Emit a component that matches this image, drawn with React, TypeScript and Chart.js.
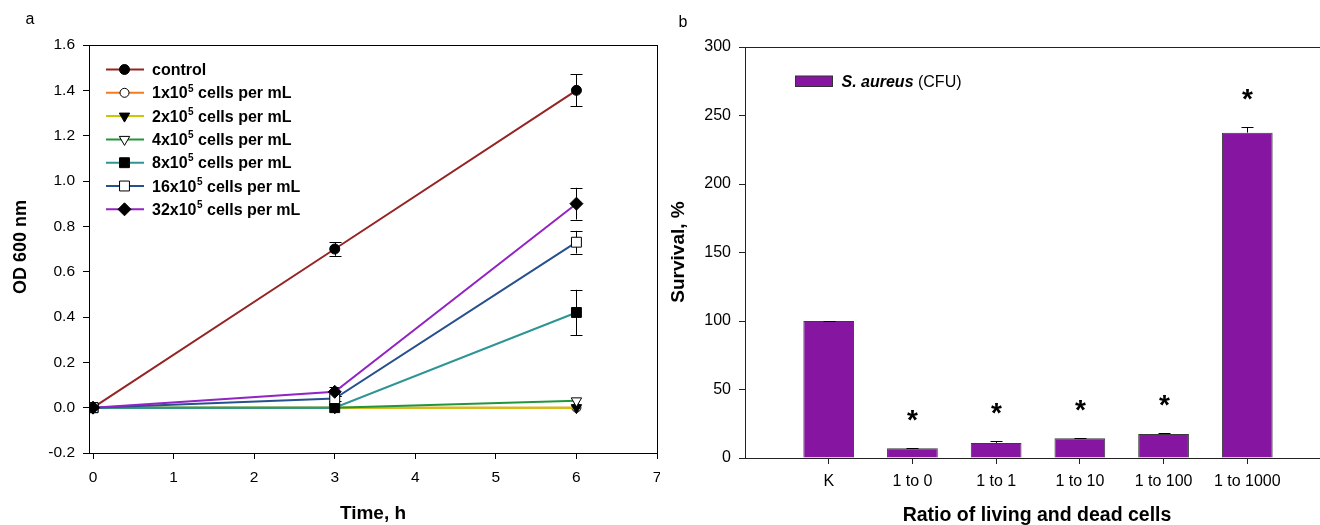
import React, { useEffect, useRef } from 'react';
import { Chart, registerables } from 'chart.js';
import { drawPoint } from 'chart.js/helpers';

Chart.register(...registerables);

const FONT = '"Liberation Sans", Arial, Helvetica, sans-serif';

// ---------- Panel a data ----------
const timePoints = [0, 3, 6];
const xTicksA = [0, 1, 2, 3, 4, 5, 6, 7];
const yTicksA = [-0.2, 0, 0.2, 0.4, 0.6, 0.8, 1.0, 1.2, 1.4, 1.6];

const seriesNames = [
  'control',
  '1x10^5 cells per mL',
  '2x10^5 cells per mL',
  '4x10^5 cells per mL',
  '8x10^5 cells per mL',
  '16x10^5 cells per mL',
  '32x10^5 cells per mL',
];
const controlOD = [0, 0.70, 1.40];
const controlErr = [0, 0.03, 0.07];
const cells1OD = [0, 0, 0];
const cells1Err = [0, 0, 0];
const cells2OD = [0, 0, 0];
const cells2Err = [0, 0, 0];
const cells4OD = [0, 0, 0.03];
const cells4Err = [0, 0, 0];
const cells8OD = [0, 0, 0.42];
const cells8Err = [0, 0, 0.10];
const cells16OD = [0, 0.04, 0.73];
const cells16Err = [0, 0.01, 0.05];
const cells32OD = [0, 0.07, 0.90];
const cells32Err = [0, 0.02, 0.07];

const seriesColors = ['#962424', '#F47B20', '#C8C800', '#23963C', '#2E9494', '#27508F', '#9223C4'];
const seriesMarkers = ['circle', 'circle', 'triangle', 'triangle', 'rect', 'rect', 'rectRot'];
const markerFilled = [true, false, true, false, true, false, true];
const markerRotation = [0, 0, 180, 180, 0, 0, 0];
const markerRadius = [5, 4.5, 6, 6, 7, 7, 6.5];

const seriesValues = [controlOD, cells1OD, cells2OD, cells4OD, cells8OD, cells16OD, cells32OD];
const seriesErrors = [controlErr, cells1Err, cells2Err, cells4Err, cells8Err, cells16Err, cells32Err];

// ---------- Panel b data ----------
const ratioLabels = ['K', '1 to 0', '1 to 1', '1 to 10', '1 to 100', '1 to 1000'];
const survival = [100, 7.1, 11.0, 14.4, 17.5, 237.5];
const survivalErr = [0.3, 0.2, 1.4, 0.3, 1.0, 4.1];
const significant = [false, true, true, true, true, true];
const yTicksB = [0, 50, 100, 150, 200, 250, 300];
const barColor = '#8616A2';

function fixedTicks(values: number[]) {
  return (scale: any) => {
    scale.ticks = values.map((v) => ({ value: v }));
  };
}

function drawLabelWithSup(ctx: CanvasRenderingContext2D, s: string, x: number, y: number, size: number) {
  const parts = s.split('^');
  ctx.font = `bold ${size}px ${FONT}`;
  ctx.fillText(parts[0], x, y);
  let cx = x + ctx.measureText(parts[0]).width;
  if (parts.length > 1) {
    const m = parts[1].match(/^(\d+)(.*)$/);
    const sup = m ? m[1] : '';
    const rest = m ? m[2] : parts[1];
    ctx.font = `bold ${Math.round(size * 0.6)}px ${FONT}`;
    ctx.fillText(sup, cx + 0.5, y - size * 0.42);
    cx += ctx.measureText(sup).width + 0.5;
    ctx.font = `bold ${size}px ${FONT}`;
    ctx.fillText(rest, cx, y);
  }
}

const panelAPlugin = {
  id: 'panelA',
  beforeDatasetsDraw(chart: any) {
    const { ctx, scales } = chart;
    const x = scales.x;
    const y = scales.y;
    ctx.save();
    ctx.strokeStyle = '#000';
    ctx.lineWidth = 1;
    seriesValues.forEach((vals, si) => {
      seriesErrors[si].forEach((e, i) => {
        if (!e) return;
        const px = Math.round(x.getPixelForValue(timePoints[i])) + 0.5;
        const top = y.getPixelForValue(vals[i] + e);
        const bot = y.getPixelForValue(vals[i] - e);
        ctx.beginPath();
        ctx.moveTo(px, top);
        ctx.lineTo(px, bot);
        ctx.moveTo(px - 6, Math.round(top) + 0.5);
        ctx.lineTo(px + 6, Math.round(top) + 0.5);
        ctx.moveTo(px - 6, Math.round(bot) + 0.5);
        ctx.lineTo(px + 6, Math.round(bot) + 0.5);
        ctx.stroke();
      });
    });
    ctx.restore();
  },
  afterDraw(chart: any) {
    const { ctx, chartArea } = chart;
    ctx.save();
    ctx.strokeStyle = '#000';
    ctx.lineWidth = 1;
    ctx.strokeRect(Math.round(chartArea.left) + 0.5, Math.round(chartArea.top) + 0.5,
      Math.round(chartArea.right - chartArea.left), Math.round(chartArea.bottom - chartArea.top));

    // legend
    const rowY0 = 69.5;
    const rowStep = 23.3;
    seriesNames.forEach((name, i) => {
      const ry = rowY0 + rowStep * i;
      ctx.strokeStyle = seriesColors[i];
      ctx.lineWidth = 2;
      ctx.beginPath();
      ctx.moveTo(106, ry);
      ctx.lineTo(144, ry);
      ctx.stroke();
      ctx.fillStyle = markerFilled[i] ? '#000' : '#fff';
      ctx.strokeStyle = '#000';
      ctx.lineWidth = 1;
      drawPoint(ctx, { pointStyle: seriesMarkers[i], radius: markerRadius[i], rotation: markerRotation[i], borderWidth: 1 } as any, 124.5, ry);
      ctx.fillStyle = '#000';
      ctx.textAlign = 'left';
      ctx.textBaseline = 'alphabetic';
      drawLabelWithSup(ctx, name, 152, ry + 5.5, 16);
    });

    // titles
    ctx.fillStyle = '#000';
    ctx.font = `16px ${FONT}`;
    ctx.textAlign = 'center';
    ctx.textBaseline = 'middle';
    ctx.fillText('a', 30, 20);

    ctx.font = `bold 19px ${FONT}`;
    ctx.textBaseline = 'alphabetic';
    ctx.fillText('Time, h', 373, 519);

    ctx.save();
    ctx.translate(25.5, 247);
    ctx.rotate(-Math.PI / 2);
    ctx.font = `bold 18px ${FONT}`;
    ctx.fillText('OD 600 nm', 0, 0);
    ctx.restore();
    ctx.restore();
  },
};

const panelBPlugin = {
  id: 'panelB',
  afterDatasetsDraw(chart: any) {
    const { ctx, scales } = chart;
    const x = scales.x;
    const y = scales.y;
    ctx.save();
    ctx.strokeStyle = '#000';
    ctx.lineWidth = 1;
    survival.forEach((v, i) => {
      const e = survivalErr[i];
      const px = Math.round(x.getPixelForValue(i)) + 0.5;
      const top = Math.round(y.getPixelForValue(v + e)) + 0.5;
      const base = y.getPixelForValue(v);
      ctx.beginPath();
      ctx.moveTo(px, base);
      ctx.lineTo(px, top);
      ctx.moveTo(px - 6, top);
      ctx.lineTo(px + 6, top);
      ctx.stroke();
      if (significant[i]) {
        ctx.fillStyle = '#000';
        ctx.font = `bold 28px ${FONT}`;
        ctx.textAlign = 'center';
        ctx.textBaseline = 'alphabetic';
        ctx.fillText('*', px, top - 34 + 14);
      }
    });
    ctx.restore();
  },
  afterDraw(chart: any) {
    const { ctx, chartArea } = chart;
    ctx.save();
    ctx.strokeStyle = '#222';
    ctx.lineWidth = 1;
    ctx.strokeRect(Math.round(chartArea.left) + 0.5, Math.round(chartArea.top) + 0.5,
      Math.round(chartArea.right - chartArea.left), Math.round(chartArea.bottom - chartArea.top));

    // legend
    ctx.fillStyle = barColor;
    ctx.fillRect(135.5, 76, 37, 10.5);
    ctx.strokeStyle = '#333';
    ctx.strokeRect(135.5, 76, 37, 10.5);
    ctx.fillStyle = '#000';
    ctx.textAlign = 'left';
    ctx.textBaseline = 'alphabetic';
    ctx.font = `italic bold 16px ${FONT}`;
    const italicPart = 'S. aureus';
    ctx.fillText(italicPart, 181.5, 87);
    const w = ctx.measureText(italicPart).width;
    ctx.font = `16px ${FONT}`;
    ctx.fillText(' (CFU)', 181.5 + w, 87);

    // titles
    ctx.font = `16px ${FONT}`;
    ctx.textAlign = 'center';
    ctx.textBaseline = 'middle';
    ctx.fillText('b', 23, 23);

    ctx.font = `bold 19.5px ${FONT}`;
    ctx.textBaseline = 'alphabetic';
    ctx.fillText('Ratio of living and dead cells', 377, 521);

    ctx.save();
    ctx.translate(24, 252);
    ctx.rotate(-Math.PI / 2);
    ctx.font = `bold 19px ${FONT}`;
    ctx.fillText('Survival, %', 0, 0);
    ctx.restore();
    ctx.restore();
  },
};

function axisCommon(color: string, size: number, padding: number) {
  return {
    grid: { display: true, drawOnChartArea: false, drawTicks: true, tickLength: 6, color, tickColor: color, tickWidth: 1, offset: false },
    border: { display: true, color, width: 1 },
    ticks: { color: '#000', font: { family: FONT, size }, padding, autoSkip: false, maxRotation: 0, minRotation: 0 },
  };
}

function fitX(h: number) {
  return (s: any) => { s.height = h; s.paddingLeft = 0; s.paddingRight = 0; };
}
function fitY(w: number) {
  return (s: any) => { s.width = w; s.paddingTop = 0; s.paddingBottom = 0; };
}

export default function App() {
  const refA = useRef<HTMLCanvasElement | null>(null);
  const refB = useRef<HTMLCanvasElement | null>(null);

  useEffect(() => {
    if (!refA.current || !refB.current) return;

    const datasetsA = seriesNames.map((name, i) => ({
      label: name,
      data: timePoints.map((t, j) => ({ x: t, y: seriesValues[i][j] })),
      borderColor: seriesColors[i],
      borderWidth: 2,
      tension: 0,
      fill: false,
      pointStyle: seriesMarkers[i],
      pointRadius: markerRadius[i],
      pointRotation: markerRotation[i],
      pointBackgroundColor: markerFilled[i] ? '#000' : '#fff',
      pointBorderColor: '#000',
      pointBorderWidth: 1,
      order: seriesNames.length - i,
    }));

    const axA = axisCommon('#000', 15.5, 9);
    const ayA = axisCommon('#000', 15.5, 8);

    const chartA = new Chart(refA.current, {
      type: 'line',
      data: { datasets: datasetsA as any },
      options: {
        animation: false,
        responsive: false,
        devicePixelRatio: 1,
        layout: { autoPadding: false, padding: { left: 0, right: 3, top: 45, bottom: 0 } },
        plugins: { legend: { display: false }, tooltip: { enabled: false } },
        scales: {
          x: {
            type: 'linear', min: -0.05, max: 7,
            afterBuildTicks: fixedTicks(xTicksA),
            afterFit: fitX(72),
            ...axA,
            ticks: { ...axA.ticks, callback: (v: any) => String(v) },
          },
          y: {
            type: 'linear', min: -0.2, max: 1.6,
            afterBuildTicks: fixedTicks(yTicksA),
            afterFit: fitY(89),
            ...ayA,
            ticks: { ...ayA.ticks, callback: (v: any) => Number(v).toFixed(1) },
          },
        },
      } as any,
      plugins: [panelAPlugin],
    });

    const axB = axisCommon('#222', 16, 8.4);
    const ayB = axisCommon('#222', 16, 8);

    const chartB = new Chart(refB.current, {
      type: 'bar',
      data: {
        datasets: [{
          label: 'S. aureus (CFU)',
          data: ratioLabels.map((_, i) => ({ x: i, y: survival[i] })),
          backgroundColor: barColor,
          borderColor: '#3a3a3a',
          borderWidth: 1,
          borderSkipped: 'bottom',
          barPercentage: 0.606,
          categoryPercentage: 1,
        }] as any,
      },
      options: {
        animation: false,
        responsive: false,
        devicePixelRatio: 1,
        layout: { autoPadding: false, padding: { left: 0, right: 9, top: 47, bottom: 0 } },
        plugins: { legend: { display: false }, tooltip: { enabled: false } },
        scales: {
          x: {
            type: 'linear', min: -1, max: 6, offset: false,
            afterBuildTicks: fixedTicks(ratioLabels.map((_, i) => i)),
            afterFit: fitX(67),
            ...axB,
            ticks: { ...axB.ticks, callback: (v: any) => ratioLabels[v] ?? '' },
          },
          y: {
            type: 'linear', min: 0, max: 300,
            afterBuildTicks: fixedTicks(yTicksB),
            afterFit: fitY(85),
            ...ayB,
            ticks: { ...ayB.ticks, callback: (v: any) => String(v) },
          },
        },
      } as any,
      plugins: [panelBPlugin],
    });

    return () => {
      chartA.destroy();
      chartB.destroy();
    };
  }, []);

  return (
    <div style={{ position: 'fixed', left: 0, top: 0, width: 1320, height: 525, overflow: 'hidden', background: '#fff' }}>
      <canvas ref={refA} width={660} height={525} style={{ position: 'absolute', left: 0, top: 0, width: 660, height: 525 }} />
      <canvas ref={refB} width={680} height={525} style={{ position: 'absolute', left: 660, top: 0, width: 680, height: 525 }} />
    </div>
  );
}
